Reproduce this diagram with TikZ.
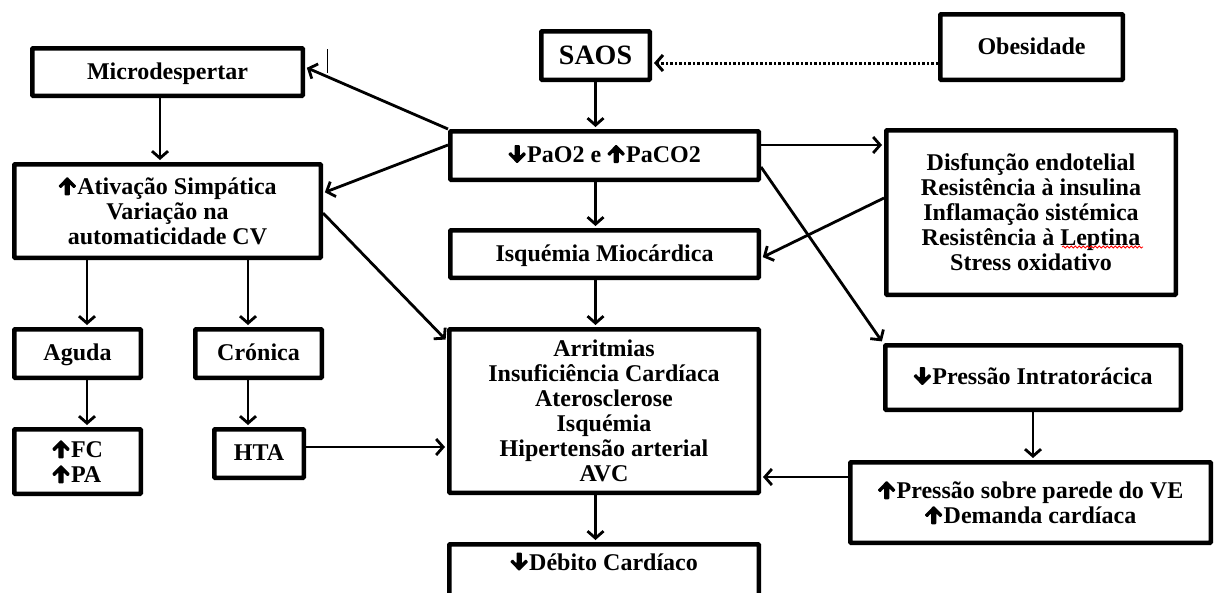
\documentclass[tikz,border=0pt]{standalone}
\usepackage{fontspec}
\setmainfont{Liberation Serif}
\usetikzlibrary{arrows.meta,decorations.pathmorphing}
\newcommand\upar{\tikz[baseline=0pt,x=1pt,y=1pt]\path[fill=black,draw=none] (-2.6,-0.5) -- (2.6,-0.5) -- (2.6,10.4) -- (6.6,6.3) -- (9,8.8) -- (0,18) -- (-9,8.8) -- (-6.6,6.3) -- (-2.6,10.4) -- cycle;\hspace{1pt}}
\newcommand\dnar{\tikz[baseline=0pt,x=1pt,y=1pt]\path[fill=black,draw=none] (-2.6,17.5) -- (2.6,17.5) -- (2.6,6.6) -- (6.6,10.7) -- (9,8.2) -- (0,-1) -- (-9,8.2) -- (-6.6,10.7) -- (-2.6,6.6) -- cycle;\hspace{1pt}}
\tikzset{
  box/.style={draw, line width=4.5pt, inner sep=1pt, align=center, rounded corners=0.8pt,
    font=\bfseries\fontsize{24}{25}\selectfont},
  oneline/.style={text height=20pt, text depth=6pt},
  conn/.style={line width=2.8pt, -{Straight Barb[length=7pt,width=16pt]}, shorten >=2pt},
}
\begin{document}
\begin{tikzpicture}[x=1pt,y=-1pt]
\fill[white] (0,0) rectangle (1215,592);
\useasboundingbox (0,0) rectangle (1215,592);

\node[box, oneline, minimum width=270.5pt, minimum height=47.5pt] (micro) at (167.5,72) {Microdespertar};
\node[box, minimum width=306.5pt, minimum height=93.5pt] (ativ) at (167.5,211) {\upar Ativação Simpática\\Variação na\\automaticidade CV};
\node[box, minimum width=108.5pt, minimum height=48.5pt, font=\bfseries\fontsize{28}{30}\selectfont] (saos) at (595.5,55.5) {SAOS};
\node[box, oneline, minimum width=182.5pt, minimum height=65.5pt] (obes) at (1031.5,47) {Obesidade};
\node[box, oneline, minimum width=308.5pt, minimum height=48.5pt] (pao2) at (604.5,155.5) {\dnar PaO2 e \upar PaCO2};
\node[box, minimum width=289.5pt, minimum height=164.5pt] (disf) at (1031,212.5) {Disfunção endotelial\\Resistência à insulina\\Inflamação sistémica\\Resistência à Leptina\\Stress oxidativo};
\node[box, oneline, minimum width=308.5pt, minimum height=47.5pt] (isq) at (604.5,254) {Isquémia Miocárdica};
\node[box, minimum width=309.5pt, minimum height=163.5pt] (arr) at (604,411) {Arritmias\\Insuficiência Cardíaca\\Aterosclerose\\Isquémia\\Hipertensão arterial\\AVC};
\node[box, minimum width=309.5pt, minimum height=53.5pt, text height=16pt, text depth=18pt] (deb) at (604,571) {\dnar Débito Cardíaco};
\node[box, oneline, minimum width=295.5pt, minimum height=64.5pt] (pint) at (1033,377.5) {\dnar Pressão Intratorácica};
\node[box, minimum width=360.5pt, minimum height=80.5pt] (psob) at (1030.5,502.5) {\upar Pressão sobre parede do VE\\\upar Demanda cardíaca};
\node[box, oneline, minimum width=126.5pt, minimum height=48.5pt] (aguda) at (77.5,353.5) {Aguda};
\node[box, oneline, minimum width=126.5pt, minimum height=48.5pt] (cron) at (258.5,353.5) {Crónica};
\node[box, minimum width=126.5pt, minimum height=64.5pt, align=left] (fc) at (77.5,461.5) {\upar FC\\\upar PA};
\node[box, oneline, minimum width=89.5pt, minimum height=48.5pt] (hta) at (259,453.5) {HTA};

% spell-check underline
\draw[red, line width=0.8pt, decorate, decoration={snake, amplitude=1pt, segment length=4pt}] (1062,247) -- (1143,247);
% small tick
\draw[line width=1pt] (327,49) -- (327,73);

\draw[conn] (pao2.north west) -- ([yshift=5pt]micro.east);
\draw[conn] ([yshift=10.5pt]pao2.west) -- ([yshift=18pt]ativ.east);
\draw[conn] ([yshift=-2pt]ativ.east) -- ([yshift=-14pt]arr.north west);
\draw[conn] ([xshift=-7.5pt]micro.south) -- ([xshift=-7.5pt]ativ.north);
\draw[conn] ([xshift=9.5pt]aguda.north |- ativ.south) -- ([xshift=9.5pt]aguda.north);
\draw[conn] ([xshift=-10.5pt]cron.north |- ativ.south) -- ([xshift=-10.5pt]cron.north);
\draw[conn] ([xshift=9.5pt]aguda.south) -- ([xshift=9.5pt]aguda.south |- fc.north);
\draw[conn] ([xshift=-10.5pt]cron.south) -- ([xshift=-10.5pt]cron.south |- hta.north);
\draw[conn] ([yshift=6.5pt]hta.east) -- ([yshift=6.5pt]hta.east -| arr.west);
\draw[conn] (saos.south) -- (saos.south |- pao2.north);
\draw[conn] (pao2.south -| saos.south) -- (isq.north -| saos.south);
\draw[conn] (isq.south -| saos.south) -- (arr.north -| saos.south);
\draw[conn] (arr.south -| saos.south) -- (deb.north -| saos.south);
\draw[conn, line width=3pt, dash pattern=on 2.5pt off 2pt] ([yshift=-16pt]obes.west) -- ([yshift=-16pt]obes.west -| saos.east);
\draw[conn] ([yshift=10.5pt]pao2.east) -- ([yshift=10.5pt]pao2.east -| disf.west);
\draw[conn] ([yshift=14.5pt]disf.west) -- ([yshift=-4pt]isq.east);
\draw[conn] ([yshift=-11.5pt]pao2.east) -- (pint.north west);
\draw[conn] (pint.south) -- (pint.south |- psob.north);
\draw[conn] ([yshift=25.5pt]psob.west) -- ([yshift=25.5pt]psob.west -| arr.east);
\end{tikzpicture}
\end{document}
